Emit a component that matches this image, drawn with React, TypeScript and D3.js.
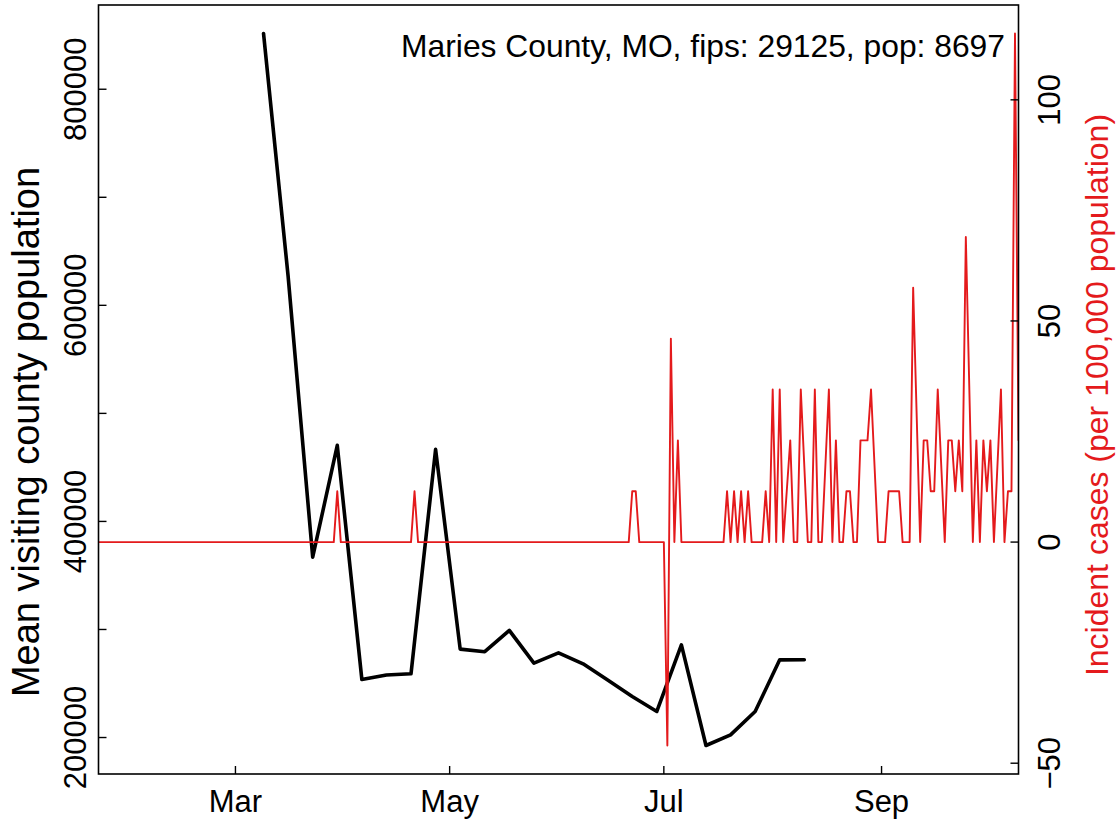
import React from "react";
import * as d3 from "d3";

// ---- data ----
const visitDates = [
  "2020-03-09", "2020-03-16", "2020-03-23", "2020-03-30", "2020-04-06", "2020-04-13",
  "2020-04-20", "2020-04-27", "2020-05-04", "2020-05-11", "2020-05-18", "2020-05-25",
  "2020-06-01", "2020-06-08", "2020-06-15", "2020-06-22", "2020-06-29", "2020-07-06",
  "2020-07-13", "2020-07-20", "2020-07-27", "2020-08-03", "2020-08-10",
];
const visitPopulation = [
  851600, 626900, 366900, 470400, 253700, 257900,
  259000, 466700, 281800, 279400, 299100, 268800,
  278400, 268200, 253200, 238000, 224100, 285800,
  192600, 202500, 224100, 271900, 272000,
];

const incidentStart = "2020-01-22";
// daily incident cases per 100,000 (null = day not reported)
const incJan = [0, 0, 0, 0, 0, 0, 0, 0, 0, 0];
const incFeb = [
  0, 0, 0, 0, 0, 0, 0, 0, 0, 0, 0, 0, 0, 0, 0, 0, 0, 0, 0, 0, 0, 0, 0, 0, 0, 0, 0, 0, 0,
];
const incMar = [
  0, 0, 0, 0, 0, 0, 0, 0, 0, 0, 0, 0, 0, 0, 0, 0, 0, 0, 0, 0, 0, 0, 0, 0, 0, 0, 0, 0, 0, 11.5, 0,
];
const incApr = [
  0, 0, 0, 0, 0, 0, 0, 0, 0, 0, 0, 0, 0, 0, 0, 0, 0, 0, 0, 0, 11.5, 0, 0, 0, 0, 0, 0, 0, 0, 0,
];
const incMay = [
  0, 0, 0, 0, 0, 0, 0, 0, 0, 0, 0, 0, 0, 0, 0, 0, 0, 0, 0, 0, 0, 0, 0, 0, 0, 0, 0, 0, 0, 0, 0,
];
const incJun = [
  0, 0, 0, 0, 0, 0, 0, 0, 0, 0, 0, 0, 0, 0, 0, 0, 0, 0, 0, 0, 0, 11.5, 11.5, 0, 0, 0, 0, 0, 0, 0,
];
const incJul = [
  0, -46, 46, 0, 23, 0, 0, 0, 0, 0, 0, 0, 0, 0, 0, 0, 0, 0, 11.5, 0, 11.5, 0, 11.5, 0, 11.5,
  0, 0, 0, 0, 11.5, 0,
];
const incAug = [
  34.5, 0, 34.5, 0, 11.5, 23, 0, 0, 34.5, null, 0, 0, 34.5, 0, 0, null, 34.5, 0, 23, 0, 0,
  11.5, 11.5, 0, 0, 23, 23, 23, 34.5, null, 0,
];
const incSep = [
  0, 0, 11.5, 11.5, 11.5, 11.5, 0, 0, 0, 57.5, null, 0, 23, 23, 11.5, 11.5, 34.5, null, 0,
  23, 23, 11.5, 23, 11.5, 69, null, 0, 23, 0, 23,
];
const incOct = [11.5, 23, 0, null, 34.5, 0, 11.5, 11.5, 115, 23];

const xDomain = ["2020-01-22", "2020-10-10"];
const monthTicks = ["2020-03-01", "2020-05-01", "2020-07-01", "2020-09-01"];
const monthLabels = ["Mar", "May", "Jul", "Sep"];
const leftTicks = [200000, 300000, 400000, 500000, 600000, 700000, 800000];
const leftTickLabels = ["200000", "", "400000", "", "600000", "", "800000"];
const rightTicks = [-50, 0, 50, 100];
const rightTickLabels = ["\u221250", "0", "50", "100"];

const titleText = "Maries County, MO, fips: 29125, pop: 8697";
const leftTitle = "Mean visiting county population";
const rightTitle = "Incident cases (per 100,000 population)";

// ---- layout ----
const W = 1119;
const H = 822;
const L = 98.5;
const R = 1018.5;
const T = 5;
const B = 774;
const FONT = "'Liberation Sans', Arial, Helvetica, sans-serif";
const RED = "#e41a1c";
const TICK_FS = 31;
const TXT_FS = 31.8;

export default function App() {
  const parse = d3.utcParse("%Y-%m-%d");
  const x = d3
    .scaleUtc()
    .domain(xDomain.map((s) => parse(s) as Date))
    .range([L, R]);

  const visitPts = visitDates.map((s, i) => ({ d: parse(s) as Date, v: visitPopulation[i] }));
  const [vMin, vMax] = d3.extent(visitPopulation) as [number, number];
  const vPad = (vMax - vMin) * 0.04;
  const yL = d3.scaleLinear().domain([vMin - vPad, vMax + vPad]).range([B, T]);

  const incAll = [
    ...incJan, ...incFeb, ...incMar, ...incApr, ...incMay, ...incJun,
    ...incJul, ...incAug, ...incSep, ...incOct,
  ];
  const start = parse(incidentStart) as Date;
  const incPts = incAll
    .map((v, i) => ({ d: d3.utcDay.offset(start, i), v }))
    .filter((p) => p.v !== null) as { d: Date; v: number }[];
  const [iMin, iMax] = d3.extent(incPts, (p) => p.v) as [number, number];
  const iPad = (iMax - iMin) * 0.04;
  const yR = d3.scaleLinear().domain([iMin - iPad, iMax + iPad]).range([B, T]);

  const visitLine = d3
    .line<{ d: Date; v: number }>()
    .x((p) => x(p.d))
    .y((p) => yL(p.v));
  const incLine = d3
    .line<{ d: Date; v: number }>()
    .x((p) => x(p.d))
    .y((p) => yR(p.v));

  const tickLen = 8;

  return (
    <svg
      width={W}
      height={H}
      viewBox={`0 0 ${W} ${H}`}
      style={{ position: "absolute", left: 0, top: 0, background: "#fff" }}
      fontFamily={FONT}
    >
      <rect x={0} y={0} width={W} height={H} fill="#fff" />
      <defs>
        <clipPath id="plotclip">
          <rect x={L} y={T} width={R - L} height={B - T} />
        </clipPath>
      </defs>

      <g clipPath="url(#plotclip)">
        <path
          d={visitLine(visitPts) || ""}
          fill="none"
          stroke="#000"
          strokeWidth={3.6}
          strokeLinejoin="round"
          strokeLinecap="round"
        />
        <path
          d={incLine(incPts) || ""}
          fill="none"
          stroke={RED}
          strokeWidth={1.9}
          strokeLinejoin="round"
          strokeLinecap="round"
        />
      </g>

      {/* box */}
      <rect x={L} y={T} width={R - L} height={B - T} fill="none" stroke="#000" strokeWidth={1.6} />

      {/* bottom axis */}
      {monthTicks.map((s, i) => {
        const xx = x(parse(s) as Date);
        return (
          <g key={s}>
            <line x1={xx} x2={xx} y1={B} y2={B - tickLen} stroke="#000" strokeWidth={1.4} />
            <text x={xx} y={812} fontSize={TICK_FS} textAnchor="middle" fill="#000">
              {monthLabels[i]}
            </text>
          </g>
        );
      })}

      {/* left axis */}
      {leftTicks.map((t, i) => {
        const yy = yL(t);
        return (
          <g key={t}>
            <line x1={L} x2={L + tickLen} y1={yy} y2={yy} stroke="#000" strokeWidth={1.4} />
            {leftTickLabels[i] && (
              <text
                transform={`translate(86,${yy}) rotate(-90)`}
                fontSize={TICK_FS}
                textAnchor="middle"
                fill="#000"
              >
                {leftTickLabels[i]}
              </text>
            )}
          </g>
        );
      })}

      {/* right axis */}
      {rightTicks.map((t, i) => {
        const yy = yR(t);
        return (
          <g key={t}>
            <line x1={R} x2={R - tickLen} y1={yy} y2={yy} stroke="#000" strokeWidth={1.4} />
            <text
              transform={`translate(1060,${yy}) rotate(-90)`}
              fontSize={TICK_FS}
              textAnchor="middle"
              fill="#000"
            >
              {rightTickLabels[i]}
            </text>
          </g>
        );
      })}

      {/* axis titles */}
      <text
        transform={`translate(39,432) rotate(-90)`}
        fontSize={38}
        textAnchor="middle"
        fill="#000"
      >
        {leftTitle}
      </text>
      <text
        transform={`translate(1108,395) rotate(-90)`}
        fontSize={32}
        textAnchor="middle"
        fill={RED}
      >
        {rightTitle}
      </text>

      {/* legend-like title */}
      <text x={1005} y={57} fontSize={TXT_FS} textAnchor="end" fill="#000">
        {titleText}
      </text>
    </svg>
  );
}
